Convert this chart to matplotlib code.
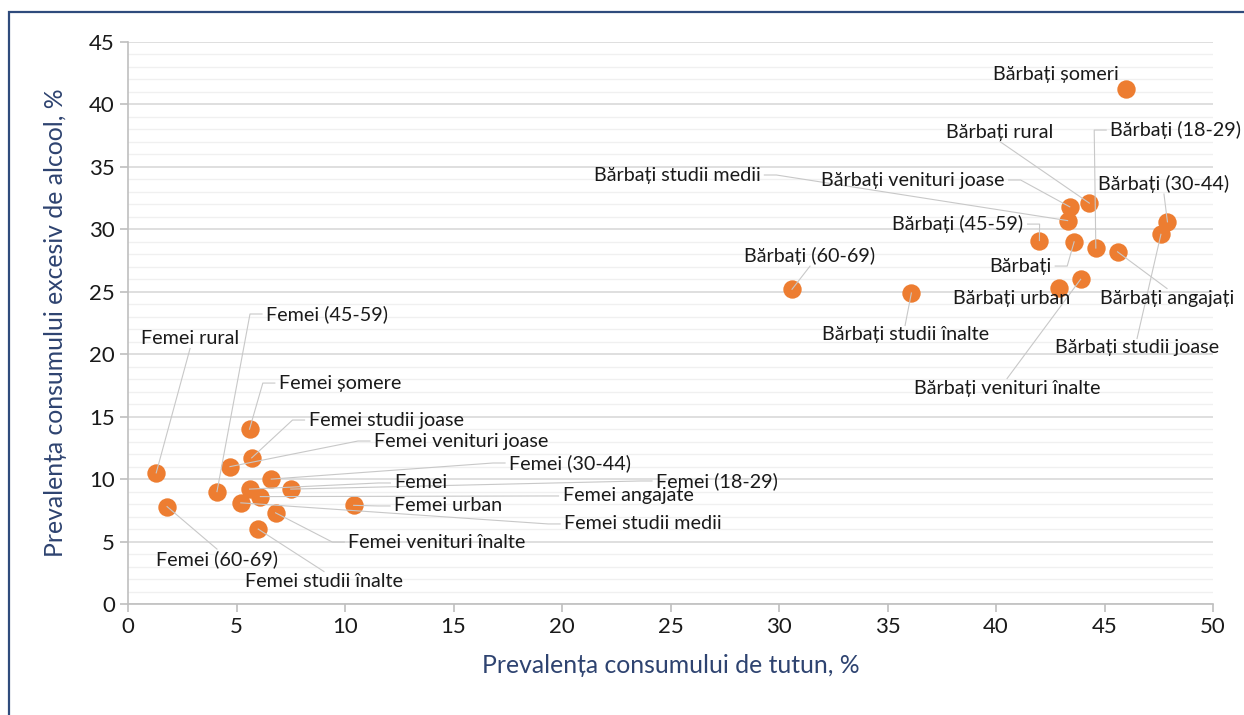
import matplotlib
matplotlib.use("Agg")
import matplotlib.pyplot as plt
from matplotlib.patches import Rectangle

plt.rcParams['font.family'] = ['Lato', 'DejaVu Sans']

# date: prevalenta tutun (x) si alcool (y), %
labels = [
    "Bărbați șomeri", "Bărbați rural", "Bărbați (18-29)", "Bărbați studii medii",
    "Bărbați venituri joase", "Bărbați (30-44)", "Bărbați (45-59)", "Bărbați (60-69)",
    "Bărbați", "Bărbați urban", "Bărbați angajați", "Bărbați studii înalte",
    "Bărbați studii joase", "Bărbați venituri înalte",
    "Femei (45-59)", "Femei rural", "Femei șomere", "Femei studii joase",
    "Femei venituri joase", "Femei (30-44)", "Femei (18-29)", "Femei",
    "Femei angajate", "Femei urban", "Femei studii medii", "Femei venituri înalte",
    "Femei (60-69)", "Femei studii înalte",
]
tutun = [46.0, 44.3, 44.6, 43.3, 43.4, 47.9, 42.0, 30.6, 43.6, 42.9, 45.6, 36.1, 47.6, 43.9,
         4.1, 1.3, 5.6, 5.7, 4.7, 6.6, 7.5, 5.6, 6.1, 10.4, 5.2, 6.8, 1.8, 6.0]
alcool = [41.2, 32.1, 28.5, 30.7, 31.8, 30.6, 29.1, 25.2, 29.0, 25.3, 28.2, 24.9, 29.6, 26.0,
          9.0, 10.5, 14.0, 11.7, 11.0, 10.0, 9.2, 9.2, 8.6, 7.9, 8.1, 7.3, 7.8, 6.0]

# pozitiile etichetelor (x, y in unitati de date)
label_pos = [
    (42.76, 42.43), (40.18, 37.79), (51.30, 37.95), (25.30, 34.35),
    (36.17, 33.95), (47.74, 33.63), (38.25, 30.42), (31.43, 27.86),
    (41.11, 27.06), (40.74, 24.50), (47.88, 24.50), (35.81, 21.54),
    (46.50, 20.50), (40.51, 17.29),
    (9.17, 23.22), (2.86, 21.22), (9.77, 17.69), (11.89, 14.73),
    (15.35, 13.05), (20.37, 11.29), (27.14, 9.85), (13.50, 9.69),
    (23.04, 8.65), (14.75, 7.85), (23.73, 6.41), (14.24, 4.96),
    (4.10, 3.60), (9.03, 1.84),
]
# unde se prinde linia de legatura cand nu e regula implicita
anchor_override = {"Bărbați rural": "bottom"}

fig = plt.figure(figsize=(12.44, 7.15), dpi=100)
ax = fig.add_axes([128 / 1244, 1 - 604 / 715, 1085 / 1244, 562 / 715])

# chenar albastru
fig.patches.append(Rectangle((9 / 1244, -0.05), 1.1, 1 - 12 / 715 + 0.05,
                             transform=fig.transFigure, fill=False,
                             edgecolor='#2F4B7C', linewidth=1.6))

ax.scatter(tutun, alcool, s=175, color='#ED7D31', zorder=3, linewidths=0)

texts = []
for lab, (tx, ty) in zip(labels, label_pos):
    ha = 'right' if lab == "Bărbați (18-29)" else 'center'
    t = ax.text(tx, ty, lab, ha=ha, va='center', fontsize=14.2,
                color='#1a1a1a', clip_on=False, zorder=5)
    texts.append(t)

ax.set_xlim(0, 50)
ax.set_ylim(0, 45)
ax.set_xticks(range(0, 51, 5))
ax.set_yticks(range(0, 46, 5))
ax.set_yticks(range(0, 46, 1), minor=True)
ax.grid(axis='y', which='major', color='#D9D9D9', lw=1.2)
ax.grid(axis='y', which='minor', color='#F0F0F0', lw=1.0)
ax.set_axisbelow(True)
for s in ['top', 'right']:
    ax.spines[s].set_visible(False)
for s in ['left', 'bottom']:
    ax.spines[s].set_color('#BFBFBF')
    ax.spines[s].set_linewidth(1.2)
ax.tick_params(which='major', length=6, color='#BFBFBF', width=1.2,
               labelsize=16, labelcolor='#1a1a1a')
ax.tick_params(which='minor', length=0)

ax.set_xlabel("Prevalența consumului de tutun, %", fontsize=17.8, color='#2E4370', labelpad=12)
ax.set_ylabel("Prevalența consumului excesiv de alcool, %", fontsize=17.8, color='#2E4370', labelpad=16)

# linii de legatura in stil Excel (cu cot orizontal langa eticheta)
fig.canvas.draw()
renderer = fig.canvas.get_renderer()
inv = ax.transData.inverted()
pad, stub = 4, 12
for t, lab, x, y in zip(texts, labels, tutun, alcool):
    bb = t.get_window_extent(renderer)
    px, py = ax.transData.transform((x, y))
    yc = (bb.y0 + bb.y1) / 2
    xc = (bb.x0 + bb.x1) / 2
    side = anchor_override.get(lab)
    if side is None:
        if px < bb.x0:
            side = 'left'
        elif px > bb.x1:
            side = 'right'
        elif py < bb.y0:
            side = 'bottom'
        else:
            side = 'top'
    if side == 'left':
        pts = [(bb.x0 - pad, yc), (bb.x0 - pad - stub, yc), (px, py)]
    elif side == 'right':
        pts = [(bb.x1 + pad, yc), (bb.x1 + pad + stub, yc), (px, py)]
    elif side == 'bottom':
        pts = [(xc, bb.y0 - 1), (px, py)]
    else:
        pts = [(xc, bb.y1 + 1), (px, py)]
    # fara linie daca eticheta e lipita de punct
    d = ((pts[0][0] - px) ** 2 + (pts[0][1] - py) ** 2) ** 0.5
    if d < 16 or bb.x0 - 8 < px < bb.x1 + 8 and bb.y0 - 8 < py < bb.y1 + 8:
        continue
    dpts = inv.transform(pts)
    ax.plot(dpts[:, 0], dpts[:, 1], color='#C8C8C8', lw=0.8, zorder=4, clip_on=False)

fig.savefig("out.png", dpi=100)
